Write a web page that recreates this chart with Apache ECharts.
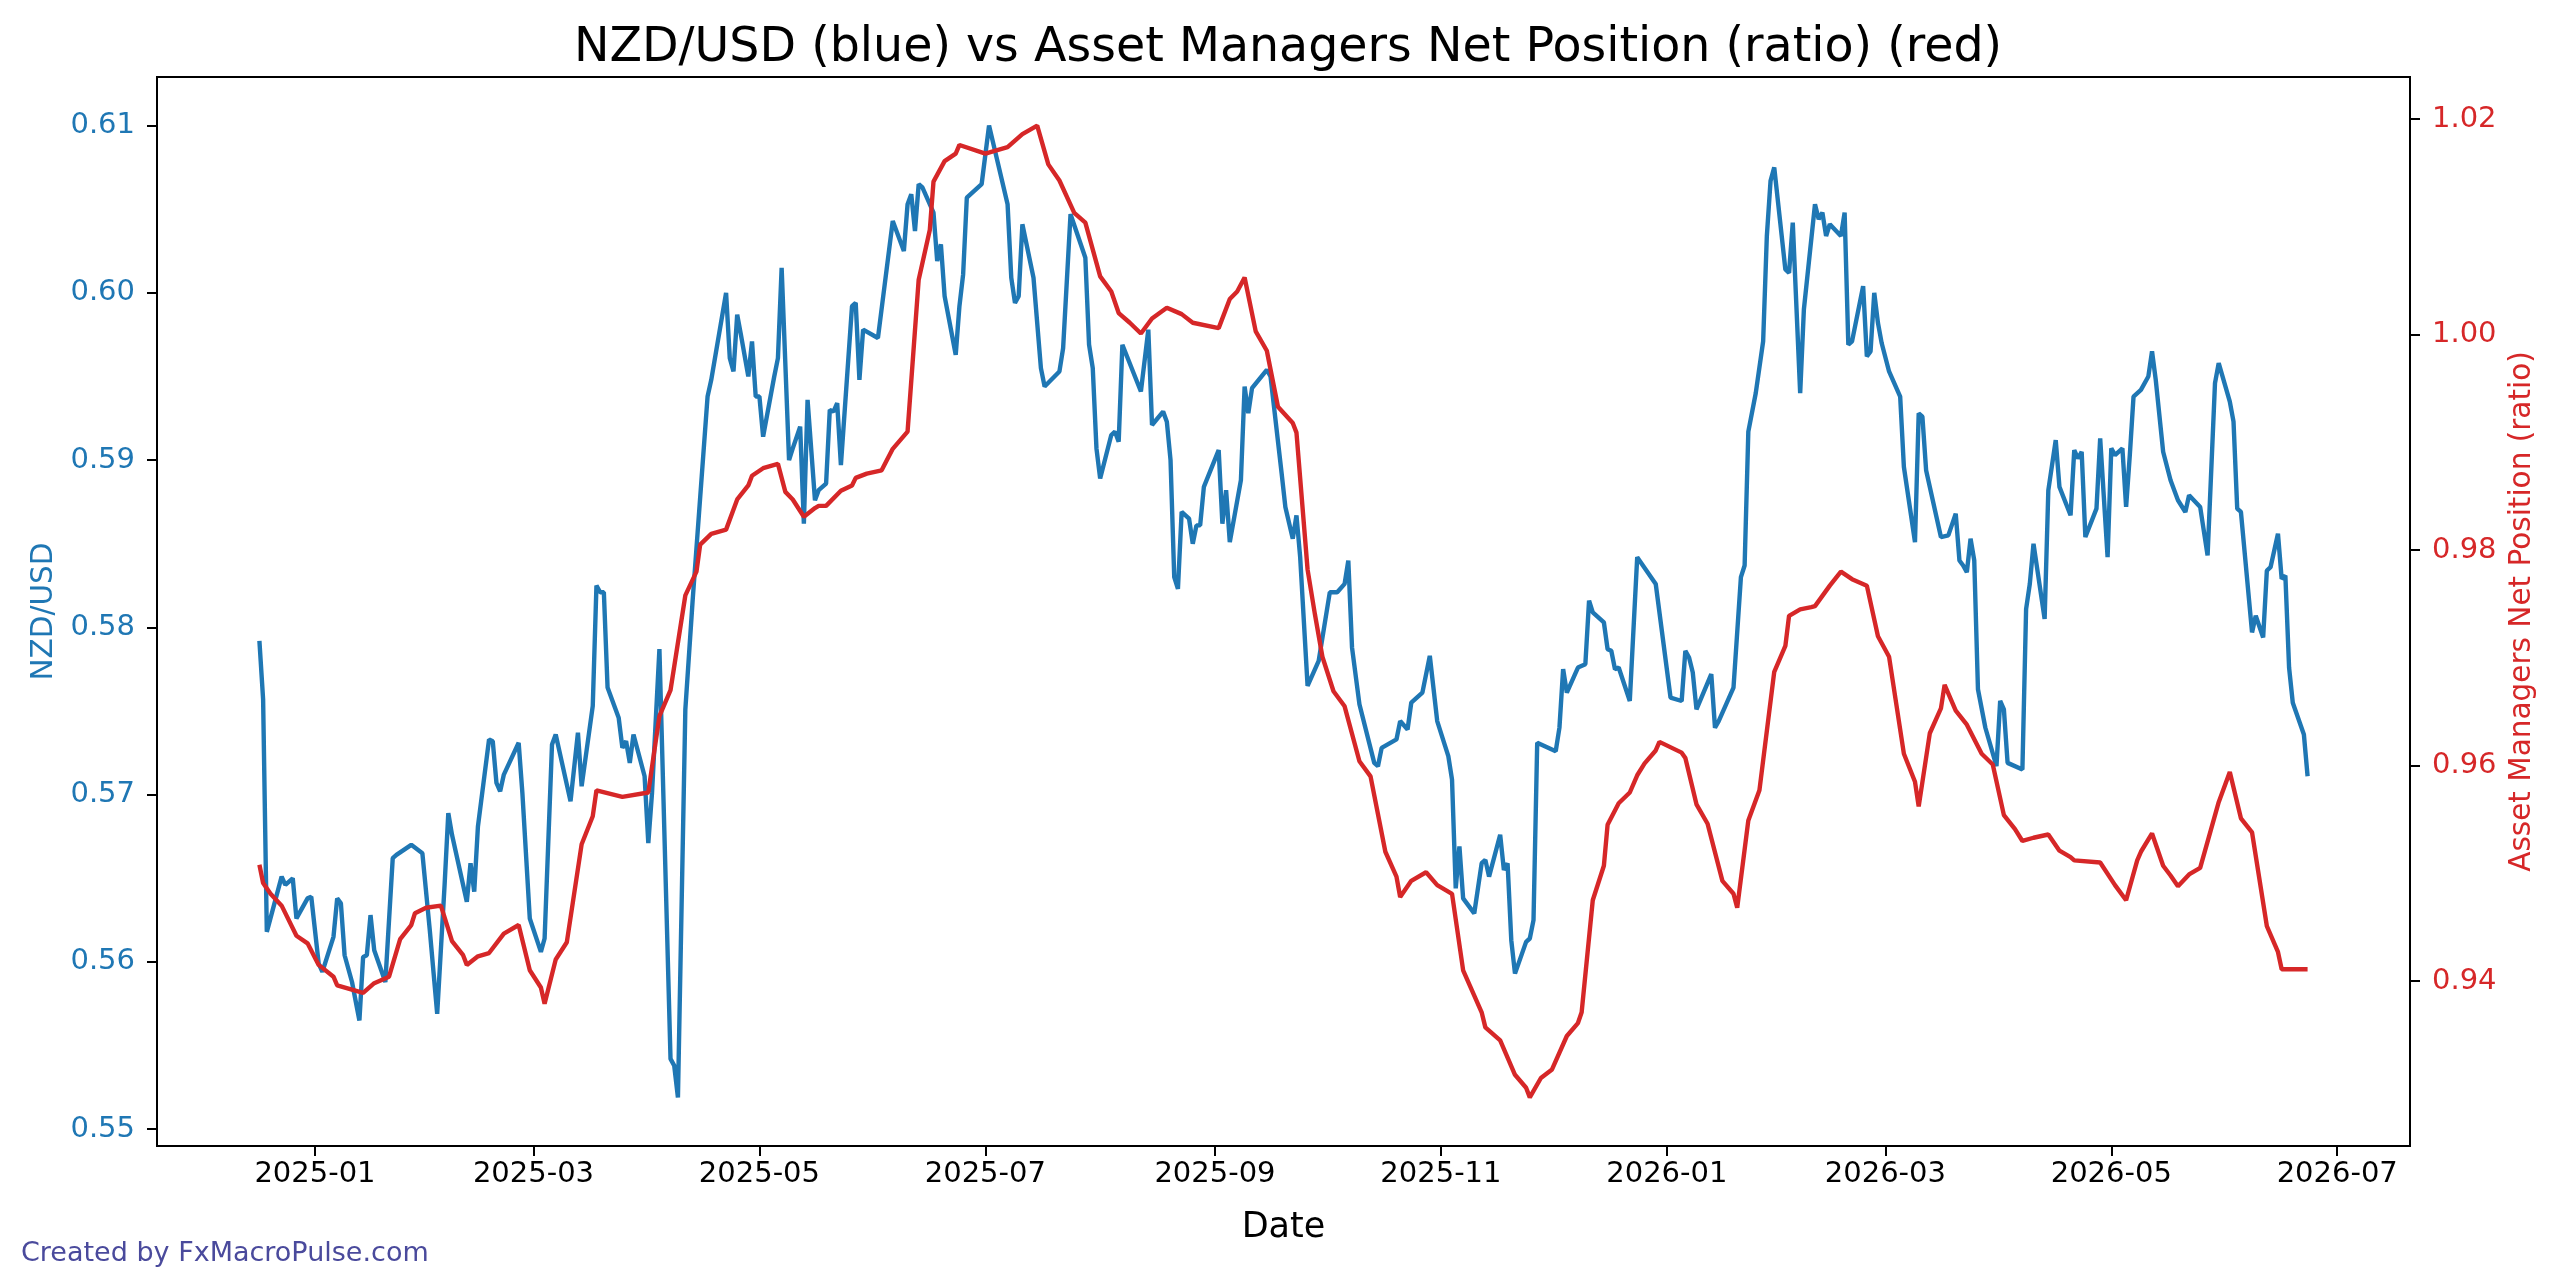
<!DOCTYPE html>
<html>
<head>
<meta charset="utf-8">
<script src="https://cdn.jsdelivr.net/npm/echarts@6/dist/echarts.min.js"></script>
<style>
html,body{margin:0;padding:0;background:#fff;}
#chart{width:2560px;height:1288px;}
</style>
</head>
<body>
<div id="chart"></div>
<script>
const blueDates = [
'2024-12-17','2024-12-18','2024-12-19','2024-12-23','2024-12-24','2024-12-26','2024-12-27','2024-12-30','2024-12-31',
'2025-01-02','2025-01-03','2025-01-06','2025-01-07','2025-01-08','2025-01-09','2025-01-11','2025-01-13','2025-01-14','2025-01-15','2025-01-16','2025-01-17','2025-01-20','2025-01-22','2025-01-23','2025-01-27','2025-01-30',
'2025-02-01','2025-02-03','2025-02-05','2025-02-06','2025-02-07','2025-02-11','2025-02-12','2025-02-13','2025-02-14','2025-02-17','2025-02-18','2025-02-19','2025-02-20','2025-02-21','2025-02-25','2025-02-26','2025-02-28',
'2025-03-03','2025-03-04','2025-03-06','2025-03-07','2025-03-10','2025-03-11','2025-03-13','2025-03-14','2025-03-17','2025-03-18','2025-03-19','2025-03-20','2025-03-21','2025-03-24','2025-03-25','2025-03-26','2025-03-27','2025-03-28','2025-03-31',
'2025-04-01','2025-04-02','2025-04-04','2025-04-07','2025-04-08','2025-04-09','2025-04-11','2025-04-13','2025-04-17','2025-04-18','2025-04-22','2025-04-23','2025-04-24','2025-04-25','2025-04-26','2025-04-28','2025-04-29','2025-04-30',
'2025-05-01','2025-05-02','2025-05-05','2025-05-06','2025-05-07','2025-05-09','2025-05-10','2025-05-12','2025-05-13','2025-05-14','2025-05-16','2025-05-17','2025-05-19','2025-05-20','2025-05-21','2025-05-22','2025-05-23','2025-05-26','2025-05-27','2025-05-28','2025-05-29',
'2025-06-02','2025-06-06','2025-06-09','2025-06-10','2025-06-11','2025-06-12','2025-06-13','2025-06-14','2025-06-17','2025-06-18','2025-06-19','2025-06-20','2025-06-23','2025-06-24','2025-06-25','2025-06-26','2025-06-30',
'2025-07-02','2025-07-07','2025-07-08','2025-07-09','2025-07-10','2025-07-11','2025-07-14','2025-07-16','2025-07-17','2025-07-21','2025-07-22','2025-07-24','2025-07-26','2025-07-28','2025-07-29','2025-07-30','2025-07-31',
'2025-08-01','2025-08-04','2025-08-05','2025-08-06','2025-08-07','2025-08-12','2025-08-14','2025-08-15','2025-08-18','2025-08-19','2025-08-20','2025-08-21','2025-08-22','2025-08-23','2025-08-25','2025-08-26','2025-08-27','2025-08-28','2025-08-29',
'2025-09-02','2025-09-03','2025-09-04','2025-09-05','2025-09-08','2025-09-09','2025-09-10','2025-09-11','2025-09-15','2025-09-16','2025-09-19','2025-09-20','2025-09-22','2025-09-23','2025-09-24','2025-09-26','2025-09-29',
'2025-10-02','2025-10-04','2025-10-06','2025-10-07','2025-10-08','2025-10-10','2025-10-14','2025-10-15','2025-10-16','2025-10-20','2025-10-21','2025-10-23','2025-10-24','2025-10-27','2025-10-29','2025-10-31',
'2025-11-03','2025-11-04','2025-11-05','2025-11-06','2025-11-07','2025-11-10','2025-11-12','2025-11-13','2025-11-14','2025-11-17','2025-11-18','2025-11-19','2025-11-20','2025-11-21','2025-11-24','2025-11-25','2025-11-26','2025-11-27',
'2025-12-02','2025-12-03','2025-12-04','2025-12-05','2025-12-08','2025-12-10','2025-12-11','2025-12-12','2025-12-15','2025-12-16','2025-12-17','2025-12-18','2025-12-19','2025-12-22','2025-12-24','2025-12-29',
'2026-01-02','2026-01-05','2026-01-06','2026-01-07','2026-01-08','2026-01-09','2026-01-13','2026-01-14','2026-01-15','2026-01-19','2026-01-21','2026-01-22','2026-01-23','2026-01-25','2026-01-27','2026-01-28','2026-01-29','2026-01-30',
'2026-02-02','2026-02-03','2026-02-04','2026-02-06','2026-02-07','2026-02-10','2026-02-11','2026-02-12','2026-02-13','2026-02-14','2026-02-17','2026-02-18','2026-02-19','2026-02-20','2026-02-23','2026-02-24','2026-02-25','2026-02-26','2026-02-27','2026-02-28',
'2026-03-02','2026-03-05','2026-03-06','2026-03-09','2026-03-10','2026-03-11','2026-03-12','2026-03-16','2026-03-18','2026-03-20','2026-03-21','2026-03-22','2026-03-23','2026-03-24','2026-03-25','2026-03-26','2026-03-28','2026-03-31',
'2026-04-01','2026-04-02','2026-04-03','2026-04-07','2026-04-08','2026-04-09','2026-04-10','2026-04-13','2026-04-14','2026-04-16','2026-04-17','2026-04-20','2026-04-21','2026-04-22','2026-04-23','2026-04-24','2026-04-27','2026-04-28','2026-04-30',
'2026-05-01','2026-05-02','2026-05-04','2026-05-05','2026-05-06','2026-05-07','2026-05-09','2026-05-11','2026-05-12','2026-05-13','2026-05-15','2026-05-17','2026-05-19','2026-05-21','2026-05-22','2026-05-25','2026-05-27','2026-05-29','2026-05-30',
'2026-06-02','2026-06-03','2026-06-04','2026-06-05','2026-06-08','2026-06-09','2026-06-11','2026-06-12','2026-06-13','2026-06-15','2026-06-16','2026-06-17','2026-06-18','2026-06-19','2026-06-22','2026-06-23'
];
const blueValues = [
0.5792,0.5757,0.5618,0.5651,0.5646,0.5650,0.5626,0.5638,0.5639,
0.5599,0.5594,0.5615,0.5638,0.5635,0.5604,0.5588,0.5565,0.5603,0.5604,0.5628,0.5607,0.5588,0.5662,0.5664,0.5670,0.5665,
0.5619,0.5569,0.5646,0.5689,0.5676,0.5636,0.5659,0.5642,0.5681,0.5733,0.5732,0.5707,0.5702,0.5712,0.5731,0.5701,0.5626,
0.5606,0.5614,0.5730,0.5736,0.5706,0.5696,0.5737,0.5705,0.5753,0.5825,0.5821,0.5821,0.5764,0.5746,0.5728,0.5732,0.5719,0.5736,0.5711,
0.5671,0.5701,0.5787,0.5542,0.5538,0.5519,0.5751,0.5817,0.5938,0.5948,0.6000,0.5961,0.5953,0.5987,0.5975,0.5950,0.5971,0.5938,
0.5938,0.5914,0.5950,0.5961,0.6015,0.5900,0.5907,0.5920,0.5862,0.5936,0.5876,0.5882,0.5886,0.5930,0.5929,0.5934,0.5897,0.5992,0.5994,0.5948,0.5978,
0.5973,0.6043,0.6025,0.6053,0.6059,0.6037,0.6065,0.6063,0.6048,0.6019,0.6029,0.5998,0.5963,0.5992,0.6011,0.6057,0.6065,
0.6100,0.6053,0.6009,0.5994,0.5998,0.6041,0.6009,0.5955,0.5944,0.5953,0.5967,0.6047,0.6034,0.6021,0.5969,0.5955,0.5907,
0.5889,0.5915,0.5917,0.5911,0.5969,0.5941,0.5978,0.5921,0.5929,0.5923,0.5900,0.5830,0.5823,0.5869,0.5865,0.5850,0.5861,0.5861,0.5884,
0.5906,0.5862,0.5882,0.5851,0.5888,0.5944,0.5928,0.5943,0.5954,0.5950,0.5892,0.5872,0.5853,0.5867,0.5842,0.5765,0.5780,
0.5821,0.5821,0.5826,0.5840,0.5788,0.5754,0.5719,0.5717,0.5728,0.5733,0.5744,0.5739,0.5755,0.5761,0.5783,0.5744,
0.5723,0.5709,0.5644,0.5669,0.5638,0.5629,0.5659,0.5661,0.5651,0.5676,0.5655,0.5659,0.5613,0.5593,0.5612,0.5614,0.5625,0.5731,
0.5726,0.5740,0.5775,0.5761,0.5776,0.5778,0.5816,0.5809,0.5803,0.5787,0.5786,0.5775,0.5776,0.5756,0.5842,0.5826,
0.5758,0.5756,0.5786,0.5782,0.5773,0.5751,0.5772,0.5740,0.5744,0.5764,0.5830,0.5837,0.5917,0.5940,0.5971,0.6034,0.6067,0.6075,
0.6014,0.6012,0.6042,0.5940,0.5990,0.6053,0.6044,0.6048,0.6034,0.6041,0.6034,0.6048,0.5969,0.5971,0.6004,0.5962,0.5965,0.6000,0.5982,0.5970,
0.5953,0.5938,0.5896,0.5851,0.5928,0.5926,0.5894,0.5854,0.5855,0.5868,0.5840,0.5837,0.5833,0.5853,0.5840,0.5763,0.5740,0.5717,
0.5756,0.5751,0.5719,0.5715,0.5811,0.5826,0.5850,0.5805,0.5882,0.5912,0.5884,0.5867,0.5906,0.5901,0.5905,0.5854,0.5871,0.5913,0.5842,
0.5907,0.5903,0.5907,0.5872,0.5903,0.5938,0.5942,0.5950,0.5965,0.5948,0.5905,0.5888,0.5876,0.5869,0.5879,0.5872,0.5843,0.5946,0.5958,
0.5935,0.5923,0.5871,0.5869,0.5797,0.5807,0.5794,0.5834,0.5836,0.5856,0.5829,0.5831,0.5776,0.5755,0.5736,0.5711
];
const redDates = [
'2024-12-17','2024-12-18','2024-12-20','2024-12-23','2024-12-27','2024-12-30',
'2025-01-02','2025-01-06','2025-01-07','2025-01-14','2025-01-17','2025-01-21','2025-01-24','2025-01-27','2025-01-28','2025-01-31',
'2025-02-04','2025-02-07','2025-02-10','2025-02-11','2025-02-14','2025-02-17','2025-02-21','2025-02-25','2025-02-28',
'2025-03-03','2025-03-04','2025-03-07','2025-03-10','2025-03-14','2025-03-17','2025-03-18','2025-03-25',
'2025-04-01','2025-04-04','2025-04-07','2025-04-11','2025-04-14','2025-04-15','2025-04-18','2025-04-22','2025-04-25','2025-04-28','2025-04-29',
'2025-05-02','2025-05-06','2025-05-08','2025-05-10','2025-05-13','2025-05-16','2025-05-17','2025-05-19','2025-05-23','2025-05-26','2025-05-27','2025-05-30',
'2025-06-03','2025-06-06','2025-06-10','2025-06-13','2025-06-16','2025-06-17','2025-06-20','2025-06-23','2025-06-24',
'2025-07-01','2025-07-07','2025-07-11','2025-07-15','2025-07-18','2025-07-21','2025-07-25','2025-07-28',
'2025-08-01','2025-08-04','2025-08-06','2025-08-09','2025-08-12','2025-08-15','2025-08-19','2025-08-23','2025-08-26',
'2025-09-02','2025-09-05','2025-09-07','2025-09-09','2025-09-12','2025-09-15','2025-09-18','2025-09-22','2025-09-23','2025-09-26','2025-09-28','2025-09-30',
'2025-10-03','2025-10-06','2025-10-10','2025-10-13','2025-10-17','2025-10-20','2025-10-21','2025-10-24','2025-10-28','2025-10-31',
'2025-11-04','2025-11-07','2025-11-12','2025-11-13','2025-11-17','2025-11-21','2025-11-24','2025-11-25','2025-11-28',
'2025-12-01','2025-12-05','2025-12-08','2025-12-09','2025-12-12','2025-12-15','2025-12-16','2025-12-19','2025-12-22','2025-12-24','2025-12-26','2025-12-29','2025-12-30',
'2026-01-05','2026-01-06','2026-01-09','2026-01-12','2026-01-16','2026-01-19','2026-01-20','2026-01-23','2026-01-26','2026-01-30',
'2026-02-02','2026-02-03','2026-02-06','2026-02-09','2026-02-10','2026-02-14','2026-02-17','2026-02-20','2026-02-24','2026-02-27',
'2026-03-02','2026-03-06','2026-03-09','2026-03-10','2026-03-13','2026-03-16','2026-03-17','2026-03-20','2026-03-23','2026-03-27','2026-03-30',
'2026-04-02','2026-04-05','2026-04-07','2026-04-10','2026-04-14','2026-04-17','2026-04-20','2026-04-21','2026-04-28',
'2026-05-02','2026-05-05','2026-05-08','2026-05-09','2026-05-12','2026-05-15','2026-05-17','2026-05-19','2026-05-22','2026-05-25','2026-05-30',
'2026-06-02','2026-06-05','2026-06-08','2026-06-12','2026-06-15','2026-06-16','2026-06-23'
];
const redValues = [
0.9508,0.9491,0.9481,0.9470,0.9442,0.9435,
0.9415,0.9404,0.9396,0.9389,0.9398,0.9404,0.9439,0.9452,0.9463,0.9468,
0.9470,0.9437,0.9424,0.9415,0.9423,0.9426,0.9444,0.9452,0.9410,
0.9394,0.9379,0.9420,0.9436,0.9527,0.9553,0.9577,0.9571,
0.9575,0.9646,0.9670,0.9758,0.9780,0.9805,0.9815,0.9819,0.9847,0.9860,0.9869,
0.9876,0.9880,0.9854,0.9847,0.9831,0.9839,0.9841,0.9841,0.9855,0.9860,0.9867,0.9871,
0.9874,0.9894,0.9910,1.0051,1.0097,1.0142,1.0161,1.0168,1.0176,
1.0168,1.0174,1.0186,1.0194,1.0158,1.0143,1.0113,1.0104,
1.0054,1.0040,1.0020,1.0011,1.0001,1.0015,1.0025,1.0019,1.0011,
1.0006,1.0033,1.0040,1.0053,1.0003,0.9985,0.9933,0.9918,0.9909,0.9782,0.9740,0.9701,
0.9669,0.9655,0.9604,0.9590,0.9520,0.9497,0.9478,0.9493,0.9501,0.9489,
0.9481,0.9410,0.9371,0.9357,0.9345,0.9313,0.9301,0.9292,0.9310,
0.9318,0.9349,0.9361,0.9371,0.9475,0.9507,0.9545,0.9565,0.9575,0.9591,0.9602,0.9614,0.9622,
0.9612,0.9607,0.9564,0.9546,0.9493,0.9481,0.9468,0.9549,0.9577,0.9687,
0.9711,0.9739,0.9745,0.9747,0.9748,0.9767,0.9780,0.9773,0.9767,0.9720,
0.9701,0.9611,0.9585,0.9562,0.9630,0.9653,0.9675,0.9651,0.9638,0.9611,0.9601,
0.9554,0.9541,0.9530,0.9533,0.9536,0.9521,0.9515,0.9512,0.9510,
0.9489,0.9475,0.9512,0.9520,0.9537,0.9507,0.9498,0.9488,0.9499,0.9505,0.9566,
0.9594,0.9551,0.9538,0.9451,0.9427,0.9411,0.9411
];
const xTickLabels = ['2025-01','2025-03','2025-05','2025-07','2025-09','2025-11','2026-01','2026-03','2026-05','2026-07'];
const leftTickLabels = ['0.55','0.56','0.57','0.58','0.59','0.60','0.61'];
const rightTickLabels = ['0.94','0.96','0.98','1.00','1.02'];

function toUTC(s){
  const p = s.split('-').map(Number);
  return Date.UTC(p[0], p[1]-1, p[2] || 1);
}
function pad(a){ // matplotlib-like 5% margins
  const mn = Math.min.apply(null,a), mx = Math.max.apply(null,a), r = mx-mn;
  return [mn - 0.05*r, mx + 0.05*r];
}
const blueData = blueDates.map((d,i)=>[toUTC(d), blueValues[i]]);
const redData = redDates.map((d,i)=>[toUTC(d), redValues[i]]);
const allT = blueData.map(p=>p[0]).concat(redData.map(p=>p[0]));
const xr = pad(allT);
const lr = pad(blueValues);
const rr = pad(redValues);
const xTicks = xTickLabels.map(toUTC);
const xLabelMap = {};
xTickLabels.forEach((s,i)=>{ xLabelMap[xTicks[i]] = s; });

const FONT = 'DejaVu Sans';
const BLUE = '#1f77b4', RED = '#d62728';

const chart = echarts.init(document.getElementById('chart'), null, {renderer:'canvas'});
chart.setOption({
  animation: false,
  backgroundColor: '#ffffff',
  textStyle: {fontFamily: FONT},
  title: {
    text: 'NZD/USD (blue) vs Asset Managers Net Position (ratio) (red)',
    left: 1283, top: 20, textAlign: 'center',
    textStyle: {fontFamily: FONT, fontSize: 47.5, fontWeight: 'normal', color: '#000'}
  },
  grid: {left: 157, right: 150, top: 77, bottom: 142, show: true, borderColor: '#000', borderWidth: 2, backgroundColor: 'transparent'},
  xAxis: {
    type: 'value', min: xr[0], max: xr[1], scale: true,
    name: 'Date', nameLocation: 'middle', nameGap: 64,
    nameTextStyle: {fontFamily: FONT, fontSize: 35, color: '#000'},
    axisLine: {show: true, onZero: false, lineStyle: {color: '#000', width: 2}},
    axisTick: {show: true, inside: false, length: 10, lineStyle: {color: '#000', width: 2}, customValues: xTicks},
    axisLabel: {show: true, margin: 14, fontFamily: FONT, fontSize: 29, color: '#000', customValues: xTicks,
      formatter: function(v){ return xLabelMap[v] !== undefined ? xLabelMap[v] : ''; }},
    splitLine: {show: false}
  },
  yAxis: [{
    type: 'value', position: 'left', min: lr[0], max: lr[1], scale: true,
    name: 'NZD/USD', nameLocation: 'middle', nameGap: 95, nameRotate: 90,
    nameTextStyle: {fontFamily: FONT, fontSize: 29.5, color: BLUE},
    axisLine: {show: true, onZero: false, lineStyle: {color: '#000', width: 2}},
    axisTick: {show: true, inside: false, length: 10, lineStyle: {color: '#000', width: 2}, customValues: leftTickLabels.map(Number)},
    axisLabel: {show: true, margin: 22, fontFamily: FONT, fontSize: 29, color: BLUE, customValues: leftTickLabels.map(Number),
      formatter: function(v){ return Number(v).toFixed(2); }},
    splitLine: {show: false}
  },{
    type: 'value', position: 'right', min: rr[0], max: rr[1], scale: true,
    name: 'Asset Managers Net Position (ratio)', nameLocation: 'middle', nameGap: 97, nameRotate: 90,
    nameTextStyle: {fontFamily: FONT, fontSize: 29.5, color: RED},
    axisLine: {show: true, onZero: false, lineStyle: {color: '#000', width: 2}},
    axisTick: {show: true, inside: false, length: 10, lineStyle: {color: '#000', width: 2}, customValues: rightTickLabels.map(Number)},
    axisLabel: {show: true, margin: 22, fontFamily: FONT, fontSize: 29, color: RED, customValues: rightTickLabels.map(Number),
      formatter: function(v){ return Number(v).toFixed(2); }},
    splitLine: {show: false}
  }],
  series: [{
    name: 'NZD/USD', type: 'line', yAxisIndex: 0, data: blueData,
    showSymbol: false, symbol: 'none', lineStyle: {color: BLUE, width: 4.4}, itemStyle: {color: BLUE}, z: 2
  },{
    name: 'Asset Managers Net Position (ratio)', type: 'line', yAxisIndex: 1, data: redData,
    showSymbol: false, symbol: 'none', lineStyle: {color: RED, width: 4.4}, itemStyle: {color: RED}, z: 3
  }],
  graphic: [{
    type: 'text', left: 21, top: 1240,
    style: {text: 'Created by FxMacroPulse.com', fontFamily: FONT, fontSize: 27, fill: '#4a4a9c'}
  }]
});
</script>
</body>
</html>
